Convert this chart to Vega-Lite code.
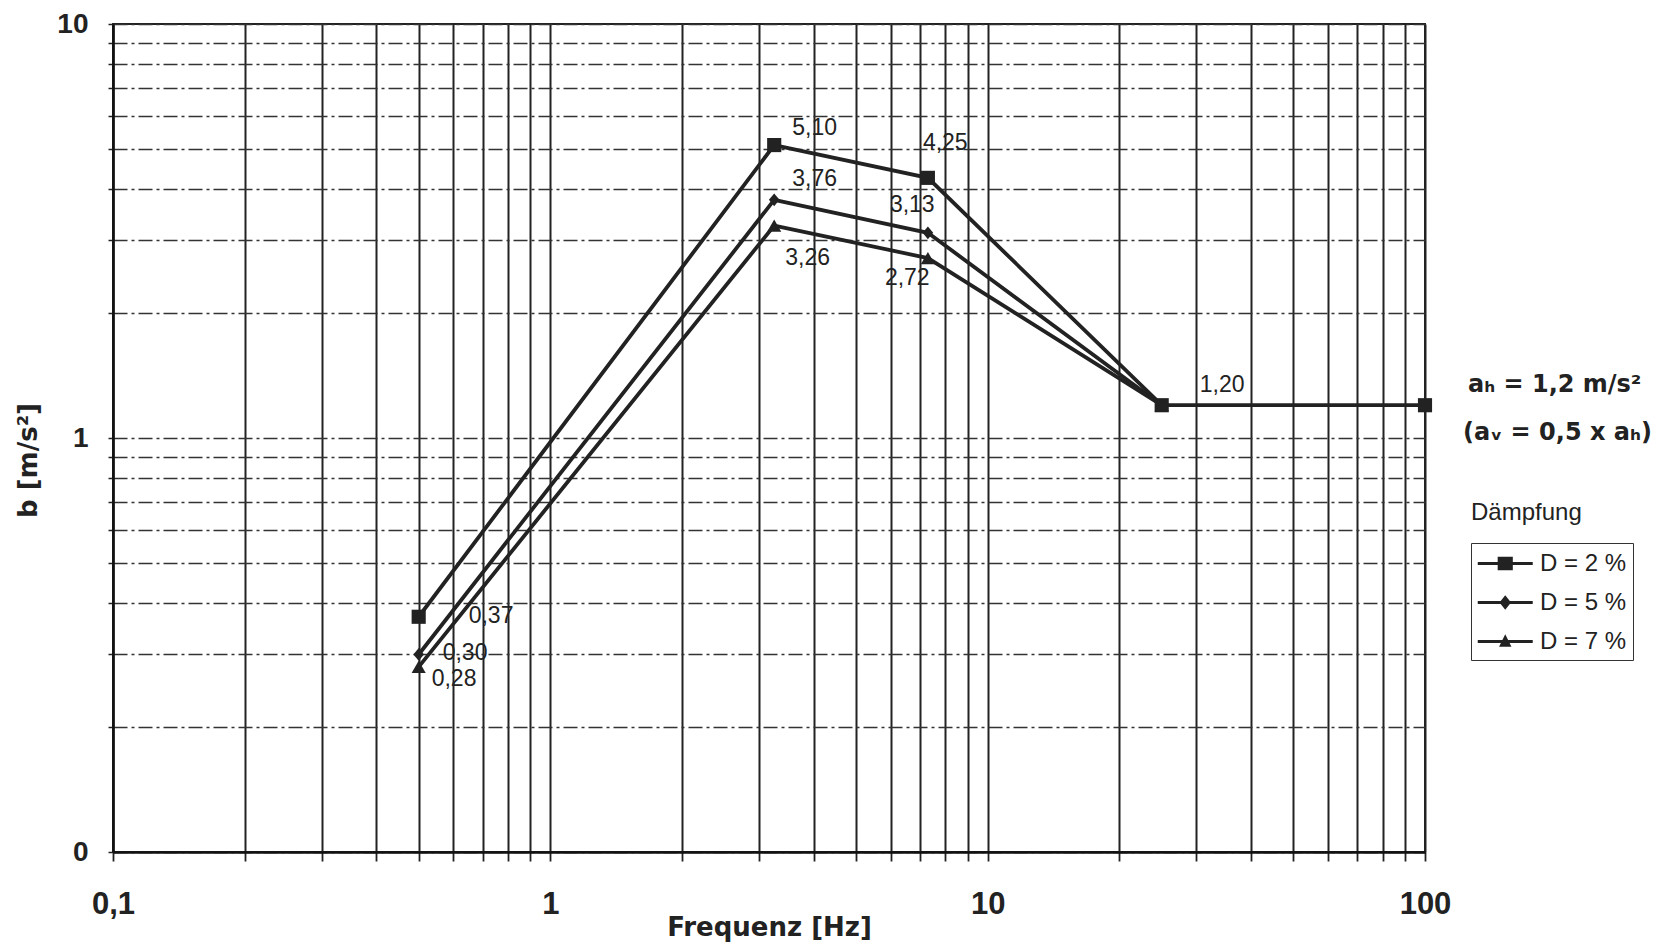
{
  "$schema": "https://vega.github.io/schema/vega-lite/v6.json",
  "width": 1312,
  "height": 828,
  "autosize": "none",
  "padding": {"left": 113, "top": 24, "right": 229, "bottom": 97},
  "background": "white",
  "config": {
    "font": "Liberation Sans",
    "locale": {"number": {"decimal": ",", "thousands": ".", "grouping": [3], "currency": ["", " €"]}},
    "view": {"stroke": "#222", "strokeWidth": 2},
    "axisX": {"gridColor": "#222", "gridWidth": 2, "gridOpacity": 1},
    "axisY": {"gridColor": "#333", "gridWidth": 1.5, "gridOpacity": 1, "gridDash": [14, 4, 3, 4]}
  },
  "data": {
    "values": [
      {"series": "D = 2 %", "f": 0.5, "b": 0.37},
      {"series": "D = 2 %", "f": 3.25, "b": 5.10},
      {"series": "D = 2 %", "f": 7.3, "b": 4.25},
      {"series": "D = 2 %", "f": 25, "b": 1.20},
      {"series": "D = 2 %", "f": 100, "b": 1.20},
      {"series": "D = 5 %", "f": 0.5, "b": 0.30},
      {"series": "D = 5 %", "f": 3.25, "b": 3.76},
      {"series": "D = 5 %", "f": 7.3, "b": 3.13},
      {"series": "D = 5 %", "f": 25, "b": 1.20},
      {"series": "D = 7 %", "f": 0.5, "b": 0.28},
      {"series": "D = 7 %", "f": 3.25, "b": 3.26},
      {"series": "D = 7 %", "f": 7.3, "b": 2.72},
      {"series": "D = 7 %", "f": 25, "b": 1.20}
    ]
  },
  "layer": [
    {
      "mark": {"type": "line", "color": "#222", "strokeWidth": 3.8},
      "encoding": {
        "x": {
          "field": "f", "type": "quantitative",
          "scale": {"type": "log", "domain": [0.1, 100], "nice": false},
          "axis": {
            "title": "Frequenz [Hz]",
            "titleFont": "DejaVu Sans", "titleFontSize": 26, "titleFontWeight": "bold", "titleColor": "#222",
            "titleBaseline": "alphabetic", "titleY": 83,
            "values": [0.1, 0.2, 0.3, 0.4, 0.5, 0.6, 0.7, 0.8, 0.9, 1, 2, 3, 4, 5, 6, 7, 8, 9, 10, 20, 30, 40, 50, 60, 70, 80, 90, 100],
            "labelExpr": "datum.value == 0.1 ? '0,1' : (datum.value == 1 || datum.value == 10 || datum.value == 100) ? format(datum.value, 'd') : ''",
            "labelFontSize": 31, "labelFontWeight": "bold", "labelColor": "#222", "labelPadding": 28, "labelFlush": false, "labelOverlap": false,
            "domainColor": "#111", "domainWidth": 2.5, "tickColor": "#222", "tickSize": 9, "tickWidth": 1.8,
            "grid": true
          }
        },
        "y": {
          "field": "b", "type": "quantitative",
          "scale": {"type": "log", "domain": [0.1, 10], "nice": false},
          "axis": {
            "title": "b [m/s²]",
            "titleFont": "DejaVu Sans", "titleFontSize": 26, "titleFontWeight": "bold", "titleColor": "#222",
            "titleBaseline": "alphabetic", "titleX": -77, "titleY": 436, "titleAngle": -90,
            "values": [0.1, 0.2, 0.3, 0.4, 0.5, 0.6, 0.7, 0.8, 0.9, 1, 2, 3, 4, 5, 6, 7, 8, 9, 10],
            "labelExpr": "datum.value == 0.1 ? '0' : datum.value == 1 ? '1' : datum.value == 10 ? '10' : ''",
            "labelFontSize": 28, "labelFontWeight": "bold", "labelColor": "#222", "labelPadding": 20, "labelFlush": false, "labelOverlap": false,
            "domainColor": "#111", "domainWidth": 2.5, "tickColor": "#222", "tickSize": 5, "tickWidth": 1.5,
            "grid": true
          }
        },
        "detail": {"field": "series"}
      }
    },
    {
      "transform": [{"filter": "datum.series == 'D = 2 %'"}],
      "mark": {"type": "point", "shape": "square", "filled": true, "color": "#222", "opacity": 1, "size": 200},
      "encoding": {"x": {"field": "f", "type": "quantitative"}, "y": {"field": "b", "type": "quantitative"}}
    },
    {
      "transform": [{"filter": "datum.series == 'D = 5 %'"}],
      "mark": {"type": "point", "shape": "M0,-0.9L0.75,0L0,0.9L-0.75,0Z", "filled": true, "color": "#222", "opacity": 1, "size": 200},
      "encoding": {"x": {"field": "f", "type": "quantitative"}, "y": {"field": "b", "type": "quantitative"}}
    },
    {
      "transform": [{"filter": "datum.series == 'D = 7 %'"}],
      "mark": {"type": "point", "shape": "triangle-up", "filled": true, "color": "#222", "opacity": 1, "size": 200},
      "encoding": {"x": {"field": "f", "type": "quantitative"}, "y": {"field": "b", "type": "quantitative"}}
    },
    {
      "transform": [{"filter": "false"}],
      "mark": {"type": "point", "filled": true, "color": "#222", "opacity": 1, "size": 756},
      "encoding": {
        "x": {"field": "f", "type": "quantitative"},
        "y": {"field": "b", "type": "quantitative"},
        "shape": {
          "field": "series", "type": "nominal",
          "scale": {
            "domain": ["D = 2 %", "D = 5 %", "D = 7 %"],
            "range": [
              "M-1,-0.11H3V0.11H-1ZM0.45,-0.5H1.55V0.5H0.45Z",
              "M-1,-0.11H3V0.11H-1ZM1,-0.52L1.42,0L1,0.52L0.58,0Z",
              "M-1,-0.11H3V0.11H-1ZM1,-0.52L1.45,0.38L0.55,0.38Z"
            ]
          },
          "legend": {
            "title": null,
            "orient": "none", "legendX": 1358, "legendY": 519,
            "padding": 6, "rowPadding": 12,
            "strokeColor": "#333",
            "symbolSize": 756, "symbolFillColor": "#222", "symbolStrokeColor": "#222", "symbolStrokeWidth": 1, "symbolOpacity": 1,
            "labelOffset": 34, "labelFontSize": 24, "labelColor": "#222", "labelFont": "Liberation Sans"
          }
        }
      }
    },
    {
      "transform": [{"filter": "datum.series == 'D = 2 %' && datum.f == 3.25"}],
      "mark": {"type": "text", "align": "left", "baseline": "middle", "dx": 18, "dy": -17, "fontSize": 23, "letterSpacing": 1, "color": "#222"},
      "encoding": {"x": {"field": "f", "type": "quantitative"}, "y": {"field": "b", "type": "quantitative"}, "text": {"field": "b", "format": ".2f"}}
    },
    {
      "transform": [{"filter": "datum.series == 'D = 2 %' && datum.f == 7.3"}],
      "mark": {"type": "text", "align": "left", "baseline": "middle", "dx": -5, "dy": -35, "fontSize": 23, "letterSpacing": 1, "color": "#222"},
      "encoding": {"x": {"field": "f", "type": "quantitative"}, "y": {"field": "b", "type": "quantitative"}, "text": {"field": "b", "format": ".2f"}}
    },
    {
      "transform": [{"filter": "datum.series == 'D = 2 %' && datum.f == 25"}],
      "mark": {"type": "text", "align": "left", "baseline": "middle", "dx": 38, "dy": -20, "fontSize": 23, "letterSpacing": 1, "color": "#222"},
      "encoding": {"x": {"field": "f", "type": "quantitative"}, "y": {"field": "b", "type": "quantitative"}, "text": {"field": "b", "format": ".2f"}}
    },
    {
      "transform": [{"filter": "datum.series == 'D = 2 %' && datum.f == 0.5"}],
      "mark": {"type": "text", "align": "left", "baseline": "middle", "dx": 50, "dy": -1, "fontSize": 23, "letterSpacing": 1, "color": "#222"},
      "encoding": {"x": {"field": "f", "type": "quantitative"}, "y": {"field": "b", "type": "quantitative"}, "text": {"field": "b", "format": ".2f"}}
    },
    {
      "transform": [{"filter": "datum.series == 'D = 5 %' && datum.f == 3.25"}],
      "mark": {"type": "text", "align": "left", "baseline": "middle", "dx": 18, "dy": -21, "fontSize": 23, "letterSpacing": 1, "color": "#222"},
      "encoding": {"x": {"field": "f", "type": "quantitative"}, "y": {"field": "b", "type": "quantitative"}, "text": {"field": "b", "format": ".2f"}}
    },
    {
      "transform": [{"filter": "datum.series == 'D = 5 %' && datum.f == 7.3"}],
      "mark": {"type": "text", "align": "left", "baseline": "middle", "dx": -38, "dy": -28, "fontSize": 23, "letterSpacing": 1, "color": "#222"},
      "encoding": {"x": {"field": "f", "type": "quantitative"}, "y": {"field": "b", "type": "quantitative"}, "text": {"field": "b", "format": ".2f"}}
    },
    {
      "transform": [{"filter": "datum.series == 'D = 5 %' && datum.f == 0.5"}],
      "mark": {"type": "text", "align": "left", "baseline": "middle", "dx": 24, "dy": -1, "fontSize": 23, "letterSpacing": 1, "color": "#222"},
      "encoding": {"x": {"field": "f", "type": "quantitative"}, "y": {"field": "b", "type": "quantitative"}, "text": {"field": "b", "format": ".2f"}}
    },
    {
      "transform": [{"filter": "datum.series == 'D = 7 %' && datum.f == 3.25"}],
      "mark": {"type": "text", "align": "left", "baseline": "middle", "dx": 11, "dy": 32, "fontSize": 23, "letterSpacing": 1, "color": "#222"},
      "encoding": {"x": {"field": "f", "type": "quantitative"}, "y": {"field": "b", "type": "quantitative"}, "text": {"field": "b", "format": ".2f"}}
    },
    {
      "transform": [{"filter": "datum.series == 'D = 7 %' && datum.f == 7.3"}],
      "mark": {"type": "text", "align": "left", "baseline": "middle", "dx": -43, "dy": 20, "fontSize": 23, "letterSpacing": 1, "color": "#222"},
      "encoding": {"x": {"field": "f", "type": "quantitative"}, "y": {"field": "b", "type": "quantitative"}, "text": {"field": "b", "format": ".2f"}}
    },
    {
      "transform": [{"filter": "datum.series == 'D = 7 %' && datum.f == 0.5"}],
      "mark": {"type": "text", "align": "left", "baseline": "middle", "dx": 13, "dy": 12, "fontSize": 23, "letterSpacing": 1, "color": "#222"},
      "encoding": {"x": {"field": "f", "type": "quantitative"}, "y": {"field": "b", "type": "quantitative"}, "text": {"field": "b", "format": ".2f"}}
    },
    {
      "data": {"values": [{"note": "aₕ = 1,2 m/s²"}]},
      "mark": {"type": "text", "align": "left", "baseline": "middle", "font": "DejaVu Sans", "fontSize": 24, "fontWeight": "bold", "color": "#222"},
      "encoding": {"x": {"datum": 125.4, "type": "quantitative"}, "y": {"datum": 1.342, "type": "quantitative"}, "text": {"field": "note", "type": "nominal"}}
    },
    {
      "data": {"values": [{"note": "(aᵥ = 0,5 x aₕ)"}]},
      "mark": {"type": "text", "align": "left", "baseline": "middle", "font": "DejaVu Sans", "fontSize": 24, "fontWeight": "bold", "color": "#222"},
      "encoding": {"x": {"datum": 122.2, "type": "quantitative"}, "y": {"datum": 1.028, "type": "quantitative"}, "text": {"field": "note", "type": "nominal"}}
    },
    {
      "data": {"values": [{"note": "Dämpfung"}]},
      "mark": {"type": "text", "align": "left", "baseline": "middle", "fontSize": 24, "color": "#222"},
      "encoding": {"x": {"datum": 127.4, "type": "quantitative"}, "y": {"datum": 0.659, "type": "quantitative"}, "text": {"field": "note", "type": "nominal"}}
    }
  ]
}
